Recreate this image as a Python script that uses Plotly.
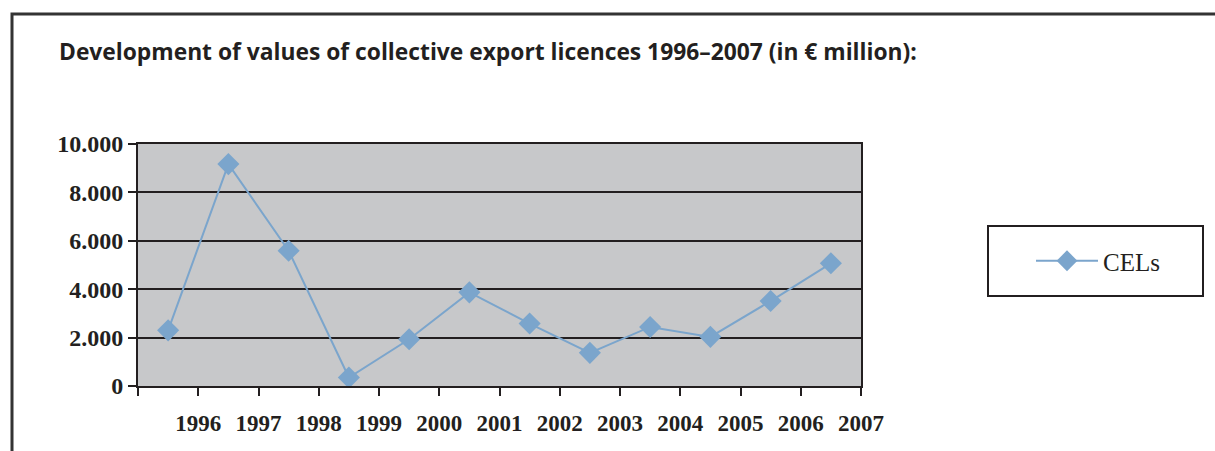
import plotly.graph_objects as go

# Values of collective export licences (CELs), € million
years = ["1996", "1997", "1998", "1999", "2000", "2001",
         "2002", "2003", "2004", "2005", "2006", "2007"]
cel_values = [2300, 9170, 5590, 350, 1930, 3870, 2580, 1370, 2440, 2030, 3510, 5070]
y_ticks = [0, 2000, 4000, 6000, 8000, 10000]

W, H = 1215, 451
L, R, T, B = 138, 354, 144, 65
PW, PH = W - L - R, H - T - B


def px_x(x):
    return (x - L) / PW


def px_y(y):
    return (H - B - y) / PH


ink = "#231f20"
blue = "#7ba5cc"

fig = go.Figure()
fig.add_trace(go.Scatter(
    x=years, y=cel_values, name="CELs", mode="lines+markers",
    line=dict(color=blue, width=2),
    marker=dict(symbol="diamond", size=17, color=blue),
))

fig.update_layout(
    width=W, height=H,
    margin=dict(l=L, r=R, t=T, b=B),
    paper_bgcolor="white",
    plot_bgcolor="#c7c8ca",
    separators=",.",
    title=dict(
        text="<b>Development of values of collective export licences 1996–2007 (in € million):</b>",
        font=dict(family="Open Sans", size=22.8, color=ink),
        xref="container", yref="container",
        x=59 / W, xanchor="left", y=1 - 52 / H, yanchor="middle",
    ),
    xaxis=dict(
        type="category", range=[-0.5, 11.5],
        tickson="boundaries", ticks="outside", ticklen=8, tickwidth=2, tickcolor=ink,
        ticklabelshift=30, ticklabelstandoff=15,
        showgrid=False, showline=True, linecolor=ink, linewidth=2, mirror=True,
        tickfont=dict(family="Liberation Serif", size=23, color=ink, weight="bold"),
    ),
    yaxis=dict(
        range=[0, 10000], tickvals=y_ticks, tickformat=",d",
        ticks="outside", ticklen=8, tickwidth=2, tickcolor=ink,
        showgrid=True, gridcolor=ink, gridwidth=2,
        showline=True, linecolor=ink, linewidth=2, mirror=True, zeroline=False,
        tickfont=dict(family="Liberation Serif", size=24, color=ink, weight="bold"),
    ),
    showlegend=True,
    legend=dict(
        x=px_x(1031), xanchor="left", y=px_y(261), yanchor="middle",
        bgcolor="rgba(0,0,0,0)", borderwidth=0, itemwidth=62,
        font=dict(family="Liberation Serif", size=25, color=ink),
    ),
    shapes=[
        # outer frame
        dict(type="rect", xref="paper", yref="paper",
             x0=px_x(12), x1=px_x(1240), y0=px_y(14), y1=px_y(480),
             line=dict(color="#333333", width=3), fillcolor="rgba(0,0,0,0)", layer="below"),
        # legend box
        dict(type="rect", xref="paper", yref="paper",
             x0=px_x(988), x1=px_x(1203), y0=px_y(226), y1=px_y(296),
             line=dict(color=ink, width=2), fillcolor="white", layer="below"),
    ],
)

fig.write_html("out.html")
